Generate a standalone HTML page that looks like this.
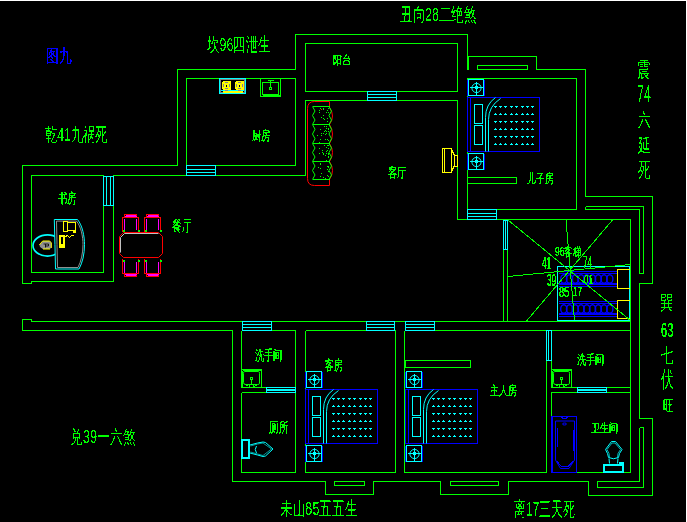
<!DOCTYPE html>
<html><head><meta charset="utf-8">
<style>
html,body{margin:0;padding:0;background:#000;width:687px;height:522px;overflow:hidden;}
svg{display:block;position:absolute;left:0;top:0;}
.t{position:absolute;left:0;top:0;font-family:"Liberation Sans",sans-serif;white-space:nowrap;line-height:1;transform-origin:0 0;}
</style></head><body>
<svg width="687" height="522" viewBox="0 0 687 522" shape-rendering="crispEdges">
<rect x="0" y="0" width="687" height="1" fill="#ffffff"/><rect x="686" y="0" width="1" height="522" fill="#ffffff"/>
<g transform="translate(0.5,0.5)" fill="none" stroke-width="1">
<g stroke="#00ff00">
<polyline points="22,283 22,165 177,165 177,69 295,69 295,34 467,34 467,69"/>
<polyline points="467,56 536,56 536,69 585,69 585,196 652,196 652,283 639,283 639,418 652,418 652,495 588,495 588,481 508,481 508,494 440,494 440,481 373,481 373,494 325,494 325,481 232,481 232,330 22,330 22,319 31,319 31,321 630,321"/>
<rect x="477" y="65" width="50" height="4"/>
<line x1="468" y1="56" x2="468" y2="69"/>
<polyline points="22,283 31,283 31,281 113,281 113,175 305,175 305,100 457,100 457,219 630,219 630,472 551,472 551,392 630,392"/>
<rect x="31" y="175" width="72" height="97"/>
<polyline points="186,165 186,78 295,78 295,165 186,165"/>
<rect x="305" y="43" width="152" height="48"/>
<polyline points="467,219 467,78 576,78 576,209 496,209"/>
<rect x="467" y="177" width="49" height="6"/>
<polyline points="585,206 643,206 643,273 639,273 639,209 585,209 585,206"/>
<polyline points="639,427 643,427 643,487 597,487 597,481 639,481 639,427"/>
<line x1="503" y1="219" x2="503" y2="321"/>
<line x1="507" y1="219" x2="507" y2="321"/>
<polyline points="241,330 241,387 295,387 295,330 241,330"/>
<polyline points="241,392 295,392 295,472 241,472 241,392"/>
<polyline points="305,330 395,330 395,472 305,472 305,330"/>
<polyline points="404,330 546,330 546,472 404,472 404,330"/>
<polyline points="551,330 630,330"/>
<polyline points="551,330 551,387 630,387"/>
<rect x="405" y="360" width="65" height="7"/>
<rect x="450" y="481" width="48" height="4"/>
<rect x="334" y="481" width="30" height="4"/>
</g>
<g stroke="#00ffff"><rect x="103" y="176" width="10" height="29" fill="#000"/><line x1="106" y1="176" x2="106" y2="205"/><line x1="110" y1="176" x2="110" y2="205"/><rect x="186" y="165" width="29" height="10" fill="#000"/><line x1="186" y1="169" x2="215" y2="169"/><line x1="186" y1="172" x2="215" y2="172"/><rect x="367" y="91" width="29" height="9" fill="#000"/><line x1="367" y1="94" x2="396" y2="94"/><line x1="367" y1="97" x2="396" y2="97"/><rect x="467" y="209" width="29" height="10" fill="#000"/><line x1="467" y1="213" x2="496" y2="213"/><line x1="467" y1="216" x2="496" y2="216"/><rect x="242" y="321" width="29" height="9" fill="#000"/><line x1="242" y1="324" x2="271" y2="324"/><line x1="242" y1="327" x2="271" y2="327"/><rect x="366" y="321" width="28" height="9" fill="#000"/><line x1="366" y1="324" x2="394" y2="324"/><line x1="366" y1="327" x2="394" y2="327"/><rect x="405" y="321" width="29" height="9" fill="#000"/><line x1="405" y1="324" x2="434" y2="324"/><line x1="405" y1="327" x2="434" y2="327"/><rect x="266" y="387" width="29" height="5" fill="#000"/><line x1="266" y1="389" x2="295" y2="389"/><line x1="266" y1="390" x2="295" y2="390"/><rect x="577" y="387" width="29" height="5" fill="#000"/><line x1="577" y1="389" x2="606" y2="389"/><line x1="577" y1="390" x2="606" y2="390"/><rect x="503" y="220" width="4" height="29" fill="#000"/><line x1="505" y1="220" x2="505" y2="249"/><rect x="546" y="330" width="5" height="30" fill="#000"/><line x1="548" y1="330" x2="548" y2="360"/></g>
<g transform="translate(467,97)"><rect x="0" y="0" width="72" height="54" stroke="#0000ff"/><line x1="3" y1="0" x2="3" y2="54" stroke="#0000ff"/><g stroke="#00ffff"><rect x="7" y="7" width="8" height="19"/><rect x="7" y="28" width="8" height="19"/><path d="M18,54 L18,20 Q18,7 28,0" shape-rendering="auto"/><path d="M21,54 L21,22 Q21,9 33,1" shape-rendering="auto"/></g><g fill="#00ffff" stroke="none" transform="translate(-0.5,-0.5)"><rect x="27" y="9" width="3" height="1"/><rect x="28" y="10" width="1" height="1"/><rect x="32" y="9" width="3" height="1"/><rect x="33" y="10" width="1" height="1"/><rect x="37" y="9" width="3" height="1"/><rect x="38" y="10" width="1" height="1"/><rect x="43" y="9" width="3" height="1"/><rect x="44" y="10" width="1" height="1"/><rect x="48" y="9" width="3" height="1"/><rect x="49" y="10" width="1" height="1"/><rect x="54" y="9" width="3" height="1"/><rect x="55" y="10" width="1" height="1"/><rect x="59" y="9" width="3" height="1"/><rect x="60" y="10" width="1" height="1"/><rect x="64" y="9" width="3" height="1"/><rect x="65" y="10" width="1" height="1"/><rect x="28" y="16" width="1" height="1"/><rect x="27" y="17" width="3" height="1"/><rect x="33" y="16" width="1" height="1"/><rect x="32" y="17" width="3" height="1"/><rect x="38" y="16" width="1" height="1"/><rect x="37" y="17" width="3" height="1"/><rect x="44" y="16" width="1" height="1"/><rect x="43" y="17" width="3" height="1"/><rect x="49" y="16" width="1" height="1"/><rect x="48" y="17" width="3" height="1"/><rect x="55" y="16" width="1" height="1"/><rect x="54" y="17" width="3" height="1"/><rect x="60" y="16" width="1" height="1"/><rect x="59" y="17" width="3" height="1"/><rect x="65" y="16" width="1" height="1"/><rect x="64" y="17" width="3" height="1"/><rect x="27" y="24" width="3" height="1"/><rect x="28" y="25" width="1" height="1"/><rect x="32" y="24" width="3" height="1"/><rect x="33" y="25" width="1" height="1"/><rect x="37" y="24" width="3" height="1"/><rect x="38" y="25" width="1" height="1"/><rect x="43" y="24" width="3" height="1"/><rect x="44" y="25" width="1" height="1"/><rect x="48" y="24" width="3" height="1"/><rect x="49" y="25" width="1" height="1"/><rect x="54" y="24" width="3" height="1"/><rect x="55" y="25" width="1" height="1"/><rect x="59" y="24" width="3" height="1"/><rect x="60" y="25" width="1" height="1"/><rect x="64" y="24" width="3" height="1"/><rect x="65" y="25" width="1" height="1"/><rect x="28" y="31" width="1" height="1"/><rect x="27" y="32" width="3" height="1"/><rect x="33" y="31" width="1" height="1"/><rect x="32" y="32" width="3" height="1"/><rect x="38" y="31" width="1" height="1"/><rect x="37" y="32" width="3" height="1"/><rect x="44" y="31" width="1" height="1"/><rect x="43" y="32" width="3" height="1"/><rect x="49" y="31" width="1" height="1"/><rect x="48" y="32" width="3" height="1"/><rect x="55" y="31" width="1" height="1"/><rect x="54" y="32" width="3" height="1"/><rect x="60" y="31" width="1" height="1"/><rect x="59" y="32" width="3" height="1"/><rect x="65" y="31" width="1" height="1"/><rect x="64" y="32" width="3" height="1"/><rect x="27" y="39" width="3" height="1"/><rect x="28" y="40" width="1" height="1"/><rect x="32" y="39" width="3" height="1"/><rect x="33" y="40" width="1" height="1"/><rect x="37" y="39" width="3" height="1"/><rect x="38" y="40" width="1" height="1"/><rect x="43" y="39" width="3" height="1"/><rect x="44" y="40" width="1" height="1"/><rect x="48" y="39" width="3" height="1"/><rect x="49" y="40" width="1" height="1"/><rect x="54" y="39" width="3" height="1"/><rect x="55" y="40" width="1" height="1"/><rect x="59" y="39" width="3" height="1"/><rect x="60" y="40" width="1" height="1"/><rect x="64" y="39" width="3" height="1"/><rect x="65" y="40" width="1" height="1"/><rect x="28" y="46" width="1" height="1"/><rect x="27" y="47" width="3" height="1"/><rect x="33" y="46" width="1" height="1"/><rect x="32" y="47" width="3" height="1"/><rect x="38" y="46" width="1" height="1"/><rect x="37" y="47" width="3" height="1"/><rect x="44" y="46" width="1" height="1"/><rect x="43" y="47" width="3" height="1"/><rect x="49" y="46" width="1" height="1"/><rect x="48" y="47" width="3" height="1"/><rect x="55" y="46" width="1" height="1"/><rect x="54" y="47" width="3" height="1"/><rect x="60" y="46" width="1" height="1"/><rect x="59" y="47" width="3" height="1"/><rect x="65" y="46" width="1" height="1"/><rect x="64" y="47" width="3" height="1"/></g></g><g transform="translate(467,79)"><line x1="0" y1="0" x2="0" y2="16" stroke="#0000ff"/><line x1="17" y1="0" x2="17" y2="16" stroke="#0000ff"/><rect x="1" y="0" width="15" height="16" stroke="#00ffff"/><circle cx="9" cy="8.5" r="4.6" stroke="#00ffff" shape-rendering="auto"/><line x1="2" y1="8" x2="15" y2="8" stroke="#00ffff"/><line x1="9" y1="2" x2="9" y2="15" stroke="#00ffff"/><rect x="8" y="7" width="2" height="2" fill="#00ffff" stroke="#00ffff"/></g><g transform="translate(467,153)"><line x1="0" y1="0" x2="0" y2="16" stroke="#0000ff"/><line x1="17" y1="0" x2="17" y2="16" stroke="#0000ff"/><rect x="1" y="0" width="15" height="16" stroke="#00ffff"/><circle cx="9" cy="8.5" r="4.6" stroke="#00ffff" shape-rendering="auto"/><line x1="2" y1="8" x2="15" y2="8" stroke="#00ffff"/><line x1="9" y1="2" x2="9" y2="15" stroke="#00ffff"/><rect x="8" y="7" width="2" height="2" fill="#00ffff" stroke="#00ffff"/></g><g transform="translate(305,389)"><rect x="0" y="0" width="72" height="54" stroke="#0000ff"/><line x1="3" y1="0" x2="3" y2="54" stroke="#0000ff"/><g stroke="#00ffff"><rect x="7" y="7" width="8" height="19"/><rect x="7" y="28" width="8" height="19"/><path d="M18,54 L18,20 Q18,7 28,0" shape-rendering="auto"/><path d="M21,54 L21,22 Q21,9 33,1" shape-rendering="auto"/></g><g fill="#00ffff" stroke="none" transform="translate(-0.5,-0.5)"><rect x="27" y="9" width="3" height="1"/><rect x="28" y="10" width="1" height="1"/><rect x="32" y="9" width="3" height="1"/><rect x="33" y="10" width="1" height="1"/><rect x="37" y="9" width="3" height="1"/><rect x="38" y="10" width="1" height="1"/><rect x="43" y="9" width="3" height="1"/><rect x="44" y="10" width="1" height="1"/><rect x="48" y="9" width="3" height="1"/><rect x="49" y="10" width="1" height="1"/><rect x="54" y="9" width="3" height="1"/><rect x="55" y="10" width="1" height="1"/><rect x="59" y="9" width="3" height="1"/><rect x="60" y="10" width="1" height="1"/><rect x="64" y="9" width="3" height="1"/><rect x="65" y="10" width="1" height="1"/><rect x="28" y="16" width="1" height="1"/><rect x="27" y="17" width="3" height="1"/><rect x="33" y="16" width="1" height="1"/><rect x="32" y="17" width="3" height="1"/><rect x="38" y="16" width="1" height="1"/><rect x="37" y="17" width="3" height="1"/><rect x="44" y="16" width="1" height="1"/><rect x="43" y="17" width="3" height="1"/><rect x="49" y="16" width="1" height="1"/><rect x="48" y="17" width="3" height="1"/><rect x="55" y="16" width="1" height="1"/><rect x="54" y="17" width="3" height="1"/><rect x="60" y="16" width="1" height="1"/><rect x="59" y="17" width="3" height="1"/><rect x="65" y="16" width="1" height="1"/><rect x="64" y="17" width="3" height="1"/><rect x="27" y="24" width="3" height="1"/><rect x="28" y="25" width="1" height="1"/><rect x="32" y="24" width="3" height="1"/><rect x="33" y="25" width="1" height="1"/><rect x="37" y="24" width="3" height="1"/><rect x="38" y="25" width="1" height="1"/><rect x="43" y="24" width="3" height="1"/><rect x="44" y="25" width="1" height="1"/><rect x="48" y="24" width="3" height="1"/><rect x="49" y="25" width="1" height="1"/><rect x="54" y="24" width="3" height="1"/><rect x="55" y="25" width="1" height="1"/><rect x="59" y="24" width="3" height="1"/><rect x="60" y="25" width="1" height="1"/><rect x="64" y="24" width="3" height="1"/><rect x="65" y="25" width="1" height="1"/><rect x="28" y="31" width="1" height="1"/><rect x="27" y="32" width="3" height="1"/><rect x="33" y="31" width="1" height="1"/><rect x="32" y="32" width="3" height="1"/><rect x="38" y="31" width="1" height="1"/><rect x="37" y="32" width="3" height="1"/><rect x="44" y="31" width="1" height="1"/><rect x="43" y="32" width="3" height="1"/><rect x="49" y="31" width="1" height="1"/><rect x="48" y="32" width="3" height="1"/><rect x="55" y="31" width="1" height="1"/><rect x="54" y="32" width="3" height="1"/><rect x="60" y="31" width="1" height="1"/><rect x="59" y="32" width="3" height="1"/><rect x="65" y="31" width="1" height="1"/><rect x="64" y="32" width="3" height="1"/><rect x="27" y="39" width="3" height="1"/><rect x="28" y="40" width="1" height="1"/><rect x="32" y="39" width="3" height="1"/><rect x="33" y="40" width="1" height="1"/><rect x="37" y="39" width="3" height="1"/><rect x="38" y="40" width="1" height="1"/><rect x="43" y="39" width="3" height="1"/><rect x="44" y="40" width="1" height="1"/><rect x="48" y="39" width="3" height="1"/><rect x="49" y="40" width="1" height="1"/><rect x="54" y="39" width="3" height="1"/><rect x="55" y="40" width="1" height="1"/><rect x="59" y="39" width="3" height="1"/><rect x="60" y="40" width="1" height="1"/><rect x="64" y="39" width="3" height="1"/><rect x="65" y="40" width="1" height="1"/><rect x="28" y="46" width="1" height="1"/><rect x="27" y="47" width="3" height="1"/><rect x="33" y="46" width="1" height="1"/><rect x="32" y="47" width="3" height="1"/><rect x="38" y="46" width="1" height="1"/><rect x="37" y="47" width="3" height="1"/><rect x="44" y="46" width="1" height="1"/><rect x="43" y="47" width="3" height="1"/><rect x="49" y="46" width="1" height="1"/><rect x="48" y="47" width="3" height="1"/><rect x="55" y="46" width="1" height="1"/><rect x="54" y="47" width="3" height="1"/><rect x="60" y="46" width="1" height="1"/><rect x="59" y="47" width="3" height="1"/><rect x="65" y="46" width="1" height="1"/><rect x="64" y="47" width="3" height="1"/></g></g><g transform="translate(305,371)"><line x1="0" y1="0" x2="0" y2="16" stroke="#0000ff"/><line x1="17" y1="0" x2="17" y2="16" stroke="#0000ff"/><rect x="1" y="0" width="15" height="16" stroke="#00ffff"/><circle cx="9" cy="8.5" r="4.6" stroke="#00ffff" shape-rendering="auto"/><line x1="2" y1="8" x2="15" y2="8" stroke="#00ffff"/><line x1="9" y1="2" x2="9" y2="15" stroke="#00ffff"/><rect x="8" y="7" width="2" height="2" fill="#00ffff" stroke="#00ffff"/></g><g transform="translate(305,445)"><line x1="0" y1="0" x2="0" y2="16" stroke="#0000ff"/><line x1="17" y1="0" x2="17" y2="16" stroke="#0000ff"/><rect x="1" y="0" width="15" height="16" stroke="#00ffff"/><circle cx="9" cy="8.5" r="4.6" stroke="#00ffff" shape-rendering="auto"/><line x1="2" y1="8" x2="15" y2="8" stroke="#00ffff"/><line x1="9" y1="2" x2="9" y2="15" stroke="#00ffff"/><rect x="8" y="7" width="2" height="2" fill="#00ffff" stroke="#00ffff"/></g><g transform="translate(405,389)"><rect x="0" y="0" width="72" height="54" stroke="#0000ff"/><line x1="3" y1="0" x2="3" y2="54" stroke="#0000ff"/><g stroke="#00ffff"><rect x="7" y="7" width="8" height="19"/><rect x="7" y="28" width="8" height="19"/><path d="M18,54 L18,20 Q18,7 28,0" shape-rendering="auto"/><path d="M21,54 L21,22 Q21,9 33,1" shape-rendering="auto"/></g><g fill="#00ffff" stroke="none" transform="translate(-0.5,-0.5)"><rect x="27" y="9" width="3" height="1"/><rect x="28" y="10" width="1" height="1"/><rect x="32" y="9" width="3" height="1"/><rect x="33" y="10" width="1" height="1"/><rect x="37" y="9" width="3" height="1"/><rect x="38" y="10" width="1" height="1"/><rect x="43" y="9" width="3" height="1"/><rect x="44" y="10" width="1" height="1"/><rect x="48" y="9" width="3" height="1"/><rect x="49" y="10" width="1" height="1"/><rect x="54" y="9" width="3" height="1"/><rect x="55" y="10" width="1" height="1"/><rect x="59" y="9" width="3" height="1"/><rect x="60" y="10" width="1" height="1"/><rect x="64" y="9" width="3" height="1"/><rect x="65" y="10" width="1" height="1"/><rect x="28" y="16" width="1" height="1"/><rect x="27" y="17" width="3" height="1"/><rect x="33" y="16" width="1" height="1"/><rect x="32" y="17" width="3" height="1"/><rect x="38" y="16" width="1" height="1"/><rect x="37" y="17" width="3" height="1"/><rect x="44" y="16" width="1" height="1"/><rect x="43" y="17" width="3" height="1"/><rect x="49" y="16" width="1" height="1"/><rect x="48" y="17" width="3" height="1"/><rect x="55" y="16" width="1" height="1"/><rect x="54" y="17" width="3" height="1"/><rect x="60" y="16" width="1" height="1"/><rect x="59" y="17" width="3" height="1"/><rect x="65" y="16" width="1" height="1"/><rect x="64" y="17" width="3" height="1"/><rect x="27" y="24" width="3" height="1"/><rect x="28" y="25" width="1" height="1"/><rect x="32" y="24" width="3" height="1"/><rect x="33" y="25" width="1" height="1"/><rect x="37" y="24" width="3" height="1"/><rect x="38" y="25" width="1" height="1"/><rect x="43" y="24" width="3" height="1"/><rect x="44" y="25" width="1" height="1"/><rect x="48" y="24" width="3" height="1"/><rect x="49" y="25" width="1" height="1"/><rect x="54" y="24" width="3" height="1"/><rect x="55" y="25" width="1" height="1"/><rect x="59" y="24" width="3" height="1"/><rect x="60" y="25" width="1" height="1"/><rect x="64" y="24" width="3" height="1"/><rect x="65" y="25" width="1" height="1"/><rect x="28" y="31" width="1" height="1"/><rect x="27" y="32" width="3" height="1"/><rect x="33" y="31" width="1" height="1"/><rect x="32" y="32" width="3" height="1"/><rect x="38" y="31" width="1" height="1"/><rect x="37" y="32" width="3" height="1"/><rect x="44" y="31" width="1" height="1"/><rect x="43" y="32" width="3" height="1"/><rect x="49" y="31" width="1" height="1"/><rect x="48" y="32" width="3" height="1"/><rect x="55" y="31" width="1" height="1"/><rect x="54" y="32" width="3" height="1"/><rect x="60" y="31" width="1" height="1"/><rect x="59" y="32" width="3" height="1"/><rect x="65" y="31" width="1" height="1"/><rect x="64" y="32" width="3" height="1"/><rect x="27" y="39" width="3" height="1"/><rect x="28" y="40" width="1" height="1"/><rect x="32" y="39" width="3" height="1"/><rect x="33" y="40" width="1" height="1"/><rect x="37" y="39" width="3" height="1"/><rect x="38" y="40" width="1" height="1"/><rect x="43" y="39" width="3" height="1"/><rect x="44" y="40" width="1" height="1"/><rect x="48" y="39" width="3" height="1"/><rect x="49" y="40" width="1" height="1"/><rect x="54" y="39" width="3" height="1"/><rect x="55" y="40" width="1" height="1"/><rect x="59" y="39" width="3" height="1"/><rect x="60" y="40" width="1" height="1"/><rect x="64" y="39" width="3" height="1"/><rect x="65" y="40" width="1" height="1"/><rect x="28" y="46" width="1" height="1"/><rect x="27" y="47" width="3" height="1"/><rect x="33" y="46" width="1" height="1"/><rect x="32" y="47" width="3" height="1"/><rect x="38" y="46" width="1" height="1"/><rect x="37" y="47" width="3" height="1"/><rect x="44" y="46" width="1" height="1"/><rect x="43" y="47" width="3" height="1"/><rect x="49" y="46" width="1" height="1"/><rect x="48" y="47" width="3" height="1"/><rect x="55" y="46" width="1" height="1"/><rect x="54" y="47" width="3" height="1"/><rect x="60" y="46" width="1" height="1"/><rect x="59" y="47" width="3" height="1"/><rect x="65" y="46" width="1" height="1"/><rect x="64" y="47" width="3" height="1"/></g></g><g transform="translate(405,371)"><line x1="0" y1="0" x2="0" y2="16" stroke="#0000ff"/><line x1="17" y1="0" x2="17" y2="16" stroke="#0000ff"/><rect x="1" y="0" width="15" height="16" stroke="#00ffff"/><circle cx="9" cy="8.5" r="4.6" stroke="#00ffff" shape-rendering="auto"/><line x1="2" y1="8" x2="15" y2="8" stroke="#00ffff"/><line x1="9" y1="2" x2="9" y2="15" stroke="#00ffff"/><rect x="8" y="7" width="2" height="2" fill="#00ffff" stroke="#00ffff"/></g><g transform="translate(405,445)"><line x1="0" y1="0" x2="0" y2="16" stroke="#0000ff"/><line x1="17" y1="0" x2="17" y2="16" stroke="#0000ff"/><rect x="1" y="0" width="15" height="16" stroke="#00ffff"/><circle cx="9" cy="8.5" r="4.6" stroke="#00ffff" shape-rendering="auto"/><line x1="2" y1="8" x2="15" y2="8" stroke="#00ffff"/><line x1="9" y1="2" x2="9" y2="15" stroke="#00ffff"/><rect x="8" y="7" width="2" height="2" fill="#00ffff" stroke="#00ffff"/></g><g>
<rect x="219" y="78" width="26" height="15" stroke="#00ffff" fill="#000"/>
<rect x="220" y="79" width="24" height="13" stroke="#808080"/>
<g transform="translate(-0.5,-0.5)" stroke="none">
<path d="M222,82 L223,81 H230 L231,82 V89 L230,90 H223 L222,89 Z" fill="#ffff00"/>
<path d="M235,82 L236,81 H243 L244,82 V89 L243,90 H236 L235,89 Z" fill="#ffff00"/>
<rect x="225" y="82" width="3" height="1" fill="#8080a0"/><rect x="223" y="84" width="1" height="3" fill="#8080a0"/><rect x="229" y="84" width="1" height="3" fill="#8080a0"/><rect x="225" y="88" width="3" height="1" fill="#8080a0"/>
<rect x="238" y="82" width="3" height="1" fill="#8080a0"/><rect x="236" y="84" width="1" height="3" fill="#8080a0"/><rect x="242" y="84" width="1" height="3" fill="#8080a0"/><rect x="238" y="88" width="3" height="1" fill="#8080a0"/>
<rect x="226" y="85" width="1" height="2" fill="#000"/><rect x="239" y="85" width="1" height="2" fill="#000"/>
<rect x="221" y="90" width="23" height="1" fill="#00ffff"/>
<rect x="223" y="91" width="20" height="2" fill="#ffff00"/>
<rect x="225" y="90" width="3" height="1" fill="#8080a0"/><rect x="238" y="90" width="3" height="1" fill="#8080a0"/>
</g>
</g><g stroke="#00ff00">
<rect x="260" y="78" width="20" height="18"/>
<rect x="262" y="82" width="16" height="12"/>
<line x1="262" y1="95" x2="279" y2="95"/>
<line x1="267" y1="80" x2="273" y2="80"/>
<line x1="270" y1="80" x2="270" y2="86"/>
<rect x="269" y="87" width="2" height="2"/>
</g><g transform="translate(241,369)" stroke="#00ff00">
<rect x="0" y="0" width="20" height="18"/>
<line x1="1" y1="1" x2="19" y2="1"/><line x1="1" y1="1" x2="1" y2="17"/>
<path d="M3,2 H17 Q18,2 18,4 V14 Q18,15 16,15 H4 Q2,15 2,13 V4 Q2,2 3,2 Z" shape-rendering="auto"/>
<rect x="9" y="8" width="2" height="2"/>
<line x1="10" y1="10" x2="10" y2="15"/>
<path d="M4,15 L7,17 M16,15 L13,17 M8,15 V17 M12,15 V17"/>
</g><g transform="translate(551,369)" stroke="#00ff00">
<rect x="0" y="0" width="20" height="18"/>
<line x1="1" y1="1" x2="19" y2="1"/><line x1="1" y1="1" x2="1" y2="17"/>
<path d="M3,2 H17 Q18,2 18,4 V14 Q18,15 16,15 H4 Q2,15 2,13 V4 Q2,2 3,2 Z" shape-rendering="auto"/>
<rect x="9" y="8" width="2" height="2"/>
<line x1="10" y1="10" x2="10" y2="15"/>
<path d="M4,15 L7,17 M16,15 L13,17 M8,15 V17 M12,15 V17"/>
</g><g stroke="#00ffff">
<rect x="241" y="439" width="8" height="19"/>
<rect x="242" y="440" width="6" height="17"/>
<path d="M249.5,444.5 L257,442.5 L262.5,441.5 L265,442 L272.5,448.5 L265,455.5 L262.5,456 L257,454.5 L249.5,452.5" shape-rendering="auto"/>
<path d="M250,445.5 L257,443.5 L262.5,442.5 L271,448.5 L262.5,455 L257,453.5 L250,451.5" shape-rendering="auto" stroke-opacity="0.6"/>
<path d="M256,445.5 Q253.5,449 256,452.5" shape-rendering="auto"/>
</g><g stroke="#00ffff">
<rect x="603" y="464" width="20" height="8"/>
<rect x="604" y="465" width="18" height="6"/>
<rect x="619" y="462" width="4" height="2" fill="#00ffff"/>
<path d="M611,441 H615 L621.5,449 L619,453 L618,457 M611,441 L605,449 L607,453 L608,457" shape-rendering="auto"/>
<path d="M611.5,442.5 H614.5 L620,449 L617.5,453 L617,457 M611.5,442.5 L606.5,449 L608.5,453 L609,457" shape-rendering="auto" stroke-opacity="0.7"/>
<path d="M608,457 Q613,459.5 618,457 M608.5,458 L609,463 M617.5,458 L617,463" shape-rendering="auto"/>
</g><g stroke="#0000ff">
<rect x="551" y="416" width="25" height="56"/>
<line x1="552" y1="416" x2="552" y2="472"/>
<path d="M555,420.5 H574 V459.5 L568.5,468 H560 L555,459.5 Z" shape-rendering="auto"/>
<path d="M556.5,427 V446 M573,429 V450 M556.5,461 L560.5,465.5 H568 L572.5,461"/>
<path d="M561,416 H567 L566,418 H562 Z"/>
<ellipse cx="564" cy="423.5" rx="2" ry="1" shape-rendering="auto"/>
</g><g stroke="#ffff00">
<rect x="442" y="148" width="9" height="24"/>
<line x1="444" y1="148" x2="444" y2="172"/>
<path d="M451,149 L454,155 M451,171 L454,165"/>
<rect x="454" y="155" width="3" height="11"/>
</g><g><path d="M329,101 H314 Q307,101 307,108 V178 Q307,185 314,185 H329 V179 M329,101 V107" stroke="#ff0000" shape-rendering="auto"/><g stroke="#ff0000" shape-rendering="auto"><path d="M329,107 Q335,115.5 329,124"/><path d="M329,124 Q335,133.5 329,143"/><path d="M329,143 Q335,152.0 329,161"/><path d="M329,161 Q335,170.0 329,179"/></g><g stroke="#00ff00"><path d="M312,106 H329 M312,124 H329 M312,143 H329 M312,161 H329 M312,179 H329"/></g><g stroke="#00ff00" shape-rendering="auto"><polyline points="312,106.0 314.5,110.5 312,115.0 314.5,119.5 312,124.0"/><polyline points="328.5,106.0 331,110.5 328.5,115.0 331,119.5 328.5,124.0"/><polyline points="312,124.0 314.5,128.75 312,133.5 314.5,138.25 312,143.0"/><polyline points="328.5,124.0 331,128.75 328.5,133.5 331,138.25 328.5,143.0"/><polyline points="312,143.0 314.5,147.5 312,152.0 314.5,156.5 312,161.0"/><polyline points="328.5,143.0 331,147.5 328.5,152.0 331,156.5 328.5,161.0"/><polyline points="312,161.0 314.5,165.5 312,170.0 314.5,174.5 312,179.0"/><polyline points="328.5,161.0 331,165.5 328.5,170.0 331,174.5 328.5,179.0"/></g><g fill="#00ff00" transform="translate(-0.5,-0.5)"><rect x="326" y="153" width="1" height="1"/><rect x="327" y="175" width="1" height="1"/><rect x="318" y="167" width="1" height="1"/><rect x="327" y="139" width="1" height="1"/><rect x="326" y="128" width="1" height="1"/><rect x="320" y="168" width="1" height="1"/><rect x="328" y="156" width="1" height="1"/><rect x="325" y="139" width="1" height="1"/><rect x="317" y="135" width="1" height="1"/><rect x="324" y="131" width="1" height="1"/><rect x="328" y="157" width="1" height="1"/><rect x="321" y="117" width="1" height="1"/><rect x="320" y="164" width="1" height="1"/><rect x="320" y="108" width="1" height="1"/><rect x="328" y="108" width="1" height="1"/><rect x="321" y="135" width="1" height="1"/><rect x="328" y="129" width="1" height="1"/><rect x="328" y="145" width="1" height="1"/><rect x="323" y="133" width="1" height="1"/><rect x="325" y="134" width="1" height="1"/><rect x="321" y="133" width="1" height="1"/><rect x="328" y="157" width="1" height="1"/><rect x="323" y="154" width="1" height="1"/><rect x="324" y="126" width="1" height="1"/><rect x="322" y="150" width="1" height="1"/><rect x="323" y="108" width="1" height="1"/><rect x="326" y="151" width="1" height="1"/><rect x="319" y="153" width="1" height="1"/><rect x="327" y="169" width="1" height="1"/><rect x="326" y="131" width="1" height="1"/><rect x="325" y="130" width="1" height="1"/><rect x="319" y="110" width="1" height="1"/><rect x="328" y="153" width="1" height="1"/><rect x="327" y="110" width="1" height="1"/><rect x="325" y="161" width="1" height="1"/><rect x="323" y="109" width="1" height="1"/><rect x="324" y="131" width="1" height="1"/><rect x="326" y="133" width="1" height="1"/><rect x="320" y="139" width="1" height="1"/><rect x="328" y="167" width="1" height="1"/><rect x="323" y="153" width="1" height="1"/><rect x="328" y="140" width="1" height="1"/><rect x="327" y="121" width="1" height="1"/><rect x="325" y="155" width="1" height="1"/><rect x="328" y="112" width="1" height="1"/><rect x="324" y="119" width="1" height="1"/><rect x="321" y="173" width="1" height="1"/><rect x="326" y="126" width="1" height="1"/><rect x="323" y="177" width="1" height="1"/><rect x="319" y="148" width="1" height="1"/><rect x="323" y="118" width="1" height="1"/><rect x="326" y="147" width="1" height="1"/><rect x="328" y="128" width="1" height="1"/><rect x="327" y="118" width="1" height="1"/><rect x="328" y="176" width="1" height="1"/><rect x="328" y="112" width="1" height="1"/><rect x="322" y="152" width="1" height="1"/><rect x="327" y="166" width="1" height="1"/><rect x="326" y="126" width="1" height="1"/><rect x="319" y="112" width="1" height="1"/><rect x="327" y="150" width="1" height="1"/><rect x="327" y="124" width="1" height="1"/><rect x="328" y="124" width="1" height="1"/><rect x="326" y="160" width="1" height="1"/><rect x="320" y="163" width="1" height="1"/><rect x="323" y="115" width="1" height="1"/><rect x="327" y="145" width="1" height="1"/><rect x="320" y="129" width="1" height="1"/><rect x="328" y="166" width="1" height="1"/><rect x="328" y="148" width="1" height="1"/><rect x="324" y="145" width="1" height="1"/><rect x="324" y="126" width="1" height="1"/><rect x="320" y="176" width="1" height="1"/><rect x="328" y="171" width="1" height="1"/><rect x="328" y="131" width="1" height="1"/><rect x="319" y="142" width="1" height="1"/><rect x="325" y="178" width="1" height="1"/><rect x="328" y="154" width="1" height="1"/><rect x="319" y="153" width="1" height="1"/><rect x="326" y="112" width="1" height="1"/></g><rect x="321" y="109" width="1" height="1" fill="#ff0000" transform="translate(-0.5,-0.5)"/></g><g>
<path d="M124,217 V214 H136 V217" stroke="#ff0000"/>
<path d="M122,231 V217 H138 V231" stroke="#ff0000"/>
<line x1="125" y1="215" x2="135" y2="215" stroke="#ff00ff"/>
<line x1="124" y1="216" x2="136" y2="216" stroke="#ff00ff"/>
<path d="M124,218 V229 M136,218 V229" stroke="#ff00ff"/>
<rect x="122" y="229" width="2" height="2" fill="#00ff00" stroke="none"/><rect x="137" y="229" width="2" height="2" fill="#00ff00" stroke="none"/>
</g><g>
<path d="M146,217 V214 H158 V217" stroke="#ff0000"/>
<path d="M144,231 V217 H160 V231" stroke="#ff0000"/>
<line x1="147" y1="215" x2="157" y2="215" stroke="#ff00ff"/>
<line x1="146" y1="216" x2="158" y2="216" stroke="#ff00ff"/>
<path d="M146,218 V229 M158,218 V229" stroke="#ff00ff"/>
<rect x="144" y="229" width="2" height="2" fill="#00ff00" stroke="none"/><rect x="159" y="229" width="2" height="2" fill="#00ff00" stroke="none"/>
</g><g>
<path d="M124,273 V276 H136 V273" stroke="#ff0000"/>
<path d="M122,258 V273 H138 V258" stroke="#ff0000"/>
<line x1="125" y1="275" x2="135" y2="275" stroke="#ff00ff"/>
<line x1="124" y1="274" x2="136" y2="274" stroke="#ff00ff"/>
<path d="M124,261 V272 M136,261 V272" stroke="#ff00ff"/>
<rect x="122" y="259" width="2" height="2" fill="#00ff00" stroke="none"/><rect x="137" y="259" width="2" height="2" fill="#00ff00" stroke="none"/>
</g><g>
<path d="M146,273 V276 H158 V273" stroke="#ff0000"/>
<path d="M144,258 V273 H160 V258" stroke="#ff0000"/>
<line x1="147" y1="275" x2="157" y2="275" stroke="#ff00ff"/>
<line x1="146" y1="274" x2="158" y2="274" stroke="#ff00ff"/>
<path d="M146,261 V272 M158,261 V272" stroke="#ff00ff"/>
<rect x="144" y="259" width="2" height="2" fill="#00ff00" stroke="none"/><rect x="159" y="259" width="2" height="2" fill="#00ff00" stroke="none"/>
</g><g>
<path d="M123,232 H158 L162,236 V253 L158,257 H123 L119,253 V236 Z" stroke="#ff0000" shape-rendering="auto"/>
<path d="M120,252 V237 L124,233 H158" stroke="#c0c0c0" shape-rendering="auto"/>
</g><g shape-rendering="auto">
<ellipse cx="47" cy="245" rx="14.5" ry="10.6" stroke="#00ffff" stroke-width="1.6"/>
<path d="M53.8,219 H77 C82,225 84,236 84,244 C84,254 82,262 78.5,268.5 H55 Q54.5,244 53.8,219 Z" stroke="#00ffff" fill="#000"/>
<path d="M56,220.6 H76 C80.5,226 82.5,236 82.5,244 C82.5,253 80.5,261 77.5,267 H57 Q56.5,244 56,220.6 Z" stroke="#909090"/>
<path d="M39.5,244.5 L42.5,241 H49 L50.5,242.5 V247 L49,248 H42.5 L40,246.5 Z" stroke="#909090" fill="#909090"/>
<path d="M43,243.5 H48 V245.5 H44.5 M45,243.5 V247" stroke="#000" stroke-width="0.8"/>
<path d="M38.8,244.5 L42.2,240.5 H49.2 L50.8,242.3 V247.5 M42.5,248.5 H49.5" stroke="#ffff00"/>
</g>
<g stroke="#ffff00">
<rect x="63" y="221" width="4" height="10"/>
<rect x="67" y="222" width="8" height="8"/>
<rect x="73" y="230" width="2" height="2" fill="#ffff00"/>
<rect x="59" y="235" width="5" height="12" fill="#ffff00"/>
<rect x="61" y="237" width="1" height="6" stroke="#000"/>
<path d="M65,236 L67,235 L69,237 L71,235 H73"/>
</g><g stroke="#00ff00"><line x1="507.5" y1="219.5" x2="630" y2="320"/><line x1="565.5" y1="219.5" x2="574" y2="320"/><line x1="612" y1="219.5" x2="526" y2="320.5"/><line x1="507.5" y1="276" x2="630" y2="264"/></g><rect x="557" y="266" width="72" height="54" stroke="#00ffff"/><g stroke="#0000ff"><line x1="558" y1="271" x2="617" y2="271"/><line x1="558" y1="273" x2="617" y2="273"/><line x1="558" y1="283" x2="617" y2="283"/><line x1="558" y1="284" x2="617" y2="284"/><line x1="558" y1="286" x2="617" y2="286"/><line x1="558" y1="301" x2="617" y2="301"/><line x1="558" y1="303" x2="617" y2="303"/><line x1="558" y1="313" x2="617" y2="313"/><line x1="558" y1="314" x2="617" y2="314"/><line x1="558" y1="316" x2="617" y2="316"/></g><g stroke="#0000ff" shape-rendering="auto" stroke-width="1.4"><ellipse cx="563.3" cy="278.5" rx="3.1" ry="4.3"/><ellipse cx="569.05" cy="278.5" rx="3.1" ry="4.3"/><ellipse cx="574.8" cy="278.5" rx="3.1" ry="4.3"/><ellipse cx="580.55" cy="278.5" rx="3.1" ry="4.3"/><ellipse cx="586.3" cy="278.5" rx="3.1" ry="4.3"/><ellipse cx="592.05" cy="278.5" rx="3.1" ry="4.3"/><ellipse cx="597.8" cy="278.5" rx="3.1" ry="4.3"/><ellipse cx="603.55" cy="278.5" rx="3.1" ry="4.3"/><ellipse cx="609.3" cy="278.5" rx="3.1" ry="4.3"/><ellipse cx="563.3" cy="308.5" rx="3.1" ry="4.3"/><ellipse cx="569.05" cy="308.5" rx="3.1" ry="4.3"/><ellipse cx="574.8" cy="308.5" rx="3.1" ry="4.3"/><ellipse cx="580.55" cy="308.5" rx="3.1" ry="4.3"/><ellipse cx="586.3" cy="308.5" rx="3.1" ry="4.3"/><ellipse cx="592.05" cy="308.5" rx="3.1" ry="4.3"/><ellipse cx="597.8" cy="308.5" rx="3.1" ry="4.3"/><ellipse cx="603.55" cy="308.5" rx="3.1" ry="4.3"/><ellipse cx="609.3" cy="308.5" rx="3.1" ry="4.3"/></g><g stroke="#ffff00"><path d="M629,269 H617 V288 H629 M629,300 H617 V318 H629"/></g><g stroke="#00ff00"><line x1="507.5" y1="219.5" x2="630" y2="320"/><line x1="565.5" y1="219.5" x2="574" y2="320"/><line x1="612" y1="219.5" x2="526" y2="320.5"/><line x1="507.5" y1="276" x2="630" y2="264"/></g>
</g>
</svg>
<svg width="0" height="0" style="position:absolute;left:0;top:0"><filter id="bin" x="0" y="0" width="100%" height="100%" color-interpolation-filters="sRGB"><feComponentTransfer><feFuncA type="discrete" tableValues="0 0 0 1 1 1 1 1 1 1"/></feComponentTransfer></filter><filter id="bin2" x="0" y="0" width="100%" height="100%" color-interpolation-filters="sRGB"><feComponentTransfer><feFuncA type="discrete" tableValues="0 0 0 0 0 1 1 1 1 1"/></feComponentTransfer></filter></svg>
<div class="t" style="color:#0000ff;font-size:19px;left:46.32px;top:47.0px;transform:scale(0.678,0.954);filter:url(#bin)">图九</div>
<div class="t" style="color:#00ff00;font-size:20px;left:45.39px;top:125.0px;transform:scale(0.6139,0.9559);filter:url(#bin2)">乾41九祸死</div>
<div class="t" style="color:#00ff00;font-size:20px;left:207.0px;top:35.0px;transform:scale(0.6238,0.9529);filter:url(#bin2)">坎96四泄生</div>
<div class="t" style="color:#00ff00;font-size:20px;left:400.36px;top:5.05px;transform:scale(0.6251,0.9474);filter:url(#bin2)">丑向28二绝煞</div>
<div class="t" style="color:#00ff00;font-size:14px;left:333.29px;top:54.07px;transform:scale(0.6579,0.8521);filter:url(#bin)">阳台</div>
<div class="t" style="color:#00ff00;font-size:15px;left:252.33px;top:129.0px;transform:scale(0.6241,0.8667);filter:url(#bin)">厨房</div>
<div class="t" style="color:#00ff00;font-size:15px;left:388.38px;top:166.0px;transform:scale(0.6207,0.8667);filter:url(#bin)">客厅</div>
<div class="t" style="color:#00ff00;font-size:14px;left:527.34px;top:172.0px;transform:scale(0.6269,0.9351);filter:url(#bin)">儿子房</div>
<div class="t" style="color:#00ff00;font-size:16px;left:58.0px;top:191.93px;transform:scale(0.5806,0.8711);filter:url(#bin)">书房</div>
<div class="t" style="color:#00ff00;font-size:17px;left:172.39px;top:218.0px;transform:scale(0.5641,0.9375);filter:url(#bin2)">餐厅</div>
<div class="t" style="color:#00ff00;font-size:14px;left:555.0px;top:246.0px;transform:scale(0.6063,0.8571);filter:url(#bin)">96客梯</div>
<div class="t" style="color:#00ff00;font-size:12px;left:542.0px;top:255.44px;transform:scale(0.6923,1.3556);filter:url(#bin)">41</div>
<div class="t" style="color:#00ff00;font-size:12px;left:583.0px;top:254.44px;transform:scale(0.6923,1.3556);filter:url(#bin)">74</div>
<div class="t" style="color:#00ff00;font-size:12px;left:547.0px;top:272.44px;transform:scale(0.6923,1.3556);filter:url(#bin)">39</div>
<div class="t" style="color:#00ff00;font-size:10px;left:584.0px;top:273.88px;transform:scale(0.8182,1.2656);filter:url(#bin)">01</div>
<div class="t" style="color:#00ff00;font-size:11px;left:559.0px;top:285.75px;transform:scale(0.8333,1.25);filter:url(#bin)">85</div>
<div class="t" style="color:#00ff00;font-size:10px;left:573.09px;top:285.88px;transform:scale(0.81,1.2656);filter:url(#bin)">17</div>
<div class="t" style="color:#00ff00;font-size:22px;left:637.4px;top:60.0px;transform:scale(0.6042,0.955);filter:url(#bin2)">震</div>
<div class="t" style="color:#00ff00;font-size:18px;left:637.31px;top:82.23px;transform:scale(0.6938,1.318);filter:url(#bin2)">74</div>
<div class="t" style="color:#00ff00;font-size:19px;left:638.0px;top:111.0px;transform:scale(0.6667,0.9444);filter:url(#bin2)">六</div>
<div class="t" style="color:#00ff00;font-size:19px;left:638.0px;top:136.0px;transform:scale(0.6667,1.0);filter:url(#bin2)">延</div>
<div class="t" style="color:#00ff00;font-size:20px;left:638.37px;top:158.88px;transform:scale(0.6316,1.0588);filter:url(#bin2)">死</div>
<div class="t" style="color:#00ff00;font-size:20px;left:660.33px;top:293.05px;transform:scale(0.6713,0.9474);filter:url(#bin2)">巽</div>
<div class="t" style="color:#00ff00;font-size:16px;left:661.23px;top:320.67px;transform:scale(0.6923,1.2564);filter:url(#bin)">63</div>
<div class="t" style="color:#00ff00;font-size:20px;left:661.0px;top:346.0px;transform:scale(0.6316,0.9474);filter:url(#bin2)">七</div>
<div class="t" style="color:#00ff00;font-size:24px;left:661.0px;top:368.05px;transform:scale(0.5217,0.9545);filter:url(#bin2)">伏</div>
<div class="t" style="color:#00ff00;font-size:16px;left:663.26px;top:398.0px;transform:scale(0.6494,1.0);filter:url(#bin)">旺</div>
<div class="t" style="color:#00ff00;font-size:15px;left:577.0px;top:353.0px;transform:scale(0.6136,0.8667);filter:url(#bin)">洗手间</div>
<div class="t" style="color:#00ff00;font-size:14px;left:591.0px;top:422.0px;transform:scale(0.6585,0.8571);filter:url(#bin)">卫生间</div>
<div class="t" style="color:#00ff00;font-size:15px;left:490.0px;top:384.0px;transform:scale(0.6,0.8667);filter:url(#bin)">主人房</div>
<div class="t" style="color:#00ff00;font-size:16px;left:255.0px;top:348.93px;transform:scale(0.5745,0.8711);filter:url(#bin)">洗手间</div>
<div class="t" style="color:#00ff00;font-size:16px;left:325.41px;top:358.93px;transform:scale(0.5352,0.8711);filter:url(#bin)">客房</div>
<div class="t" style="color:#00ff00;font-size:15px;left:269.31px;top:420.07px;transform:scale(0.6446,0.9286);filter:url(#bin)">厕所</div>
<div class="t" style="color:#00ff00;font-size:20px;left:70.36px;top:428.0px;transform:scale(0.64,0.9);filter:url(#bin2)">兑39一六煞</div>
<div class="t" style="color:#00ff00;font-size:20px;left:280.37px;top:499.0px;transform:scale(0.6333,0.9474);filter:url(#bin2)">未山85五五生</div>
<div class="t" style="color:#00ff00;font-size:22px;left:514.0px;top:499.86px;transform:scale(0.5407,0.9116);filter:url(#bin2)">离17三天死</div>

</body></html>
